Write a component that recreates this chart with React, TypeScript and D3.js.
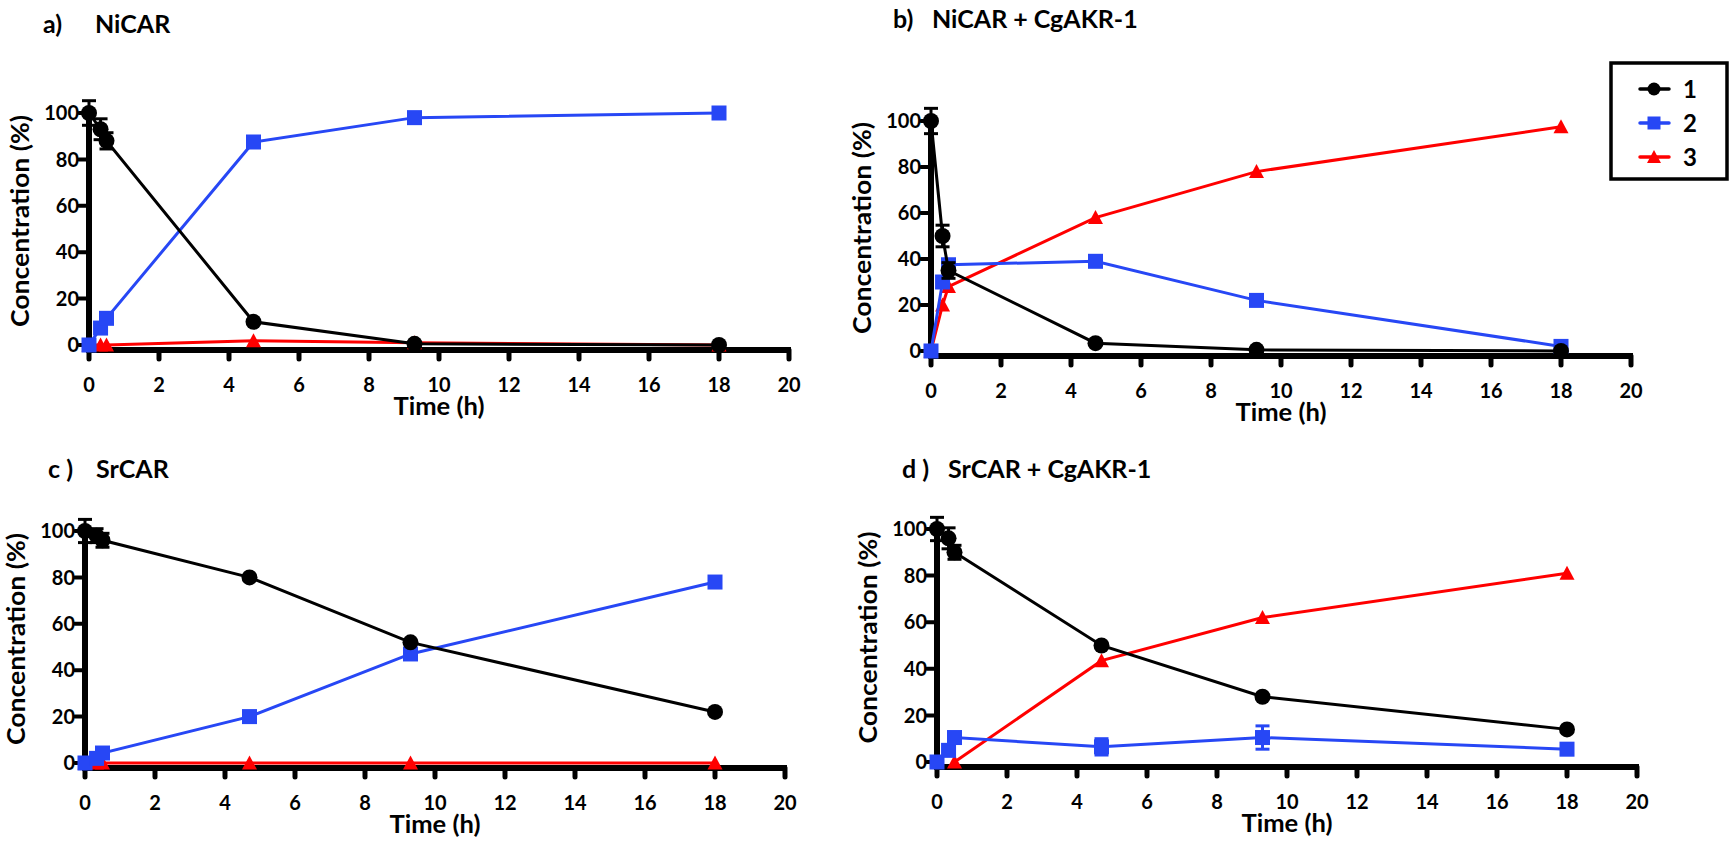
import { line, scaleLinear } from "d3";

// sampling times (h)
const times = [0, 0.33, 0.5, 4.7, 9.3, 18];
const xTicks = [0, 2, 4, 6, 8, 10, 12, 14, 16, 18, 20];
const yTicks = [0, 20, 40, 60, 80, 100];
const legendLabels = ["1", "2", "3"];

// a) NiCAR
const a1 = [100, 93, 88, 10, 0.5, 0];
const a1Err = [5.3, 4.5, 3.5, 0, 0, 0];
const a2 = [0, 7.3, 11.5, 87.5, 98, 100];
const a3 = [0, 0, 0, 1.8, 1, 0];

// b) NiCAR + CgAKR-1
const b1 = [100, 50, 35, 3.4, 0.5, 0];
const b1Err = [5.5, 4.7, 3.4, 0, 0, 0];
const b2 = [0, 30, 37.5, 39, 22, 2];
const b3 = [0, 20, 28, 58, 78, 97.5];

// c) SrCAR
const c1 = [100, 98, 96, 80, 52, 22];
const c1Err = [5, 3, 3, 0, 0, 0];
const c2 = [0, 2, 4.3, 20, 47, 78];
const c3 = [0, 0, 0, 0, 0, 0];

// d) SrCAR + CgAKR-1
const d1 = [100, 96, 90, 50, 28, 14];
const d1Err = [5, 4.5, 3, 0, 0, 0];
const d2 = [0, 5, 10.5, 6.5, 10.5, 5.5];
const d2Err = [0, 0, 0, 3.5, 5, 0];
const d3 = [null, null, 0, 43.5, 62, 81];

const BLACK = "#000000";
const BLUE = "#2747f5";
const RED = "#ff0000";
const FONT = "Lato, 'Open Sans', sans-serif";

type Val = number | null;

interface PanelProps {
  axisX: number;
  y100: number;
  y0: number;
  label: string;
  name: string;
  labelX: number;
  nameX: number;
  titleY: number;
  s1: Val[];
  e1: number[];
  s2: Val[];
  e2?: number[];
  s3: Val[];
}

function Marker({ kind, cx, cy, fill }: { kind: string; cx: number; cy: number; fill: string }) {
  if (kind === "circle") return <circle cx={cx} cy={cy} r={8} fill={fill} />;
  if (kind === "square") return <rect x={cx - 7.5} y={cy - 7.5} width={15} height={15} fill={fill} />;
  return <path d={`M${cx},${cy - 7.5}L${cx + 7.5},${cy + 6.5}L${cx - 7.5},${cy + 6.5}Z`} fill={fill} />;
}

function Series({ values, errs, color, kind, sx, sy }: {
  values: Val[];
  errs?: number[];
  color: string;
  kind: string;
  sx: (v: number) => number;
  sy: (v: number) => number;
}) {
  const pts = times.map((t, i) => [t, values[i]] as [number, Val]);
  const path = line<[number, Val]>()
    .defined((d) => d[1] != null)
    .x((d) => sx(d[0]))
    .y((d) => sy(d[1] as number))(pts);
  return (
    <g>
      <path d={path ?? ""} fill="none" stroke={color} strokeWidth={3} />
      {errs &&
        pts.map(([t, v], i) =>
          v != null && errs[i] > 0 ? (
            <g key={`e${i}`} stroke={color} strokeWidth={3}>
              <line x1={sx(t)} x2={sx(t)} y1={sy(v + errs[i])} y2={sy(v - errs[i])} />
              <line x1={sx(t) - 7} x2={sx(t) + 7} y1={sy(v + errs[i])} y2={sy(v + errs[i])} />
              <line x1={sx(t) - 7} x2={sx(t) + 7} y1={sy(v - errs[i])} y2={sy(v - errs[i])} />
            </g>
          ) : null
        )}
      {pts.map(([t, v], i) =>
        v != null ? <Marker key={`m${i}`} kind={kind} cx={sx(t)} cy={sy(v)} fill={color} /> : null
      )}
    </g>
  );
}

function Panel(p: PanelProps) {
  const sx = scaleLinear().domain([0, 20]).range([p.axisX, p.axisX + 700]);
  const sy = scaleLinear().domain([0, 100]).range([p.y0, p.y100]);
  const axisY = p.y0 + 5;
  const midY = (p.y0 + p.y100) / 2 - 8;
  return (
    <g fontFamily={FONT} fontWeight={700}>
      <text x={p.labelX} y={p.titleY} fontSize={25}>{p.label}</text>
      <text x={p.nameX} y={p.titleY} fontSize={25}>{p.name}</text>

      {/* y axis */}
      <line x1={p.axisX} x2={p.axisX} y1={axisY} y2={sy(100) - 3} stroke={BLACK} strokeWidth={6} />
      {yTicks.map((v) => (
        <g key={`y${v}`}>
          <line x1={p.axisX} x2={p.axisX - 10} y1={sy(v)} y2={sy(v)} stroke={BLACK} strokeWidth={4} strokeLinecap="round" />
          <text x={p.axisX - 10} y={sy(v)} dy="0.36em" textAnchor="end" fontSize={20}>{v}</text>
        </g>
      ))}
      <text
        transform={`translate(${p.axisX - 69},${midY}) rotate(-90)`}
        textAnchor="middle"
        dy="0.36em"
        fontSize={25}
        textLength={212}
        lengthAdjust="spacingAndGlyphs"
      >
        Concentration (%)
      </text>

      {/* x axis */}
      <line x1={p.axisX - 3} x2={sx(20) + 2} y1={axisY} y2={axisY} stroke={BLACK} strokeWidth={6} />
      {xTicks.map((t) => (
        <g key={`x${t}`}>
          <line x1={sx(t)} x2={sx(t)} y1={axisY} y2={axisY + 9} stroke={BLACK} strokeWidth={5} strokeLinecap="round" />
          <text x={sx(t)} y={axisY + 42} textAnchor="middle" fontSize={20}>{t}</text>
        </g>
      ))}
      <text x={sx(10)} y={axisY + 65} textAnchor="middle" fontSize={24} textLength={91} lengthAdjust="spacingAndGlyphs">
        Time (h)
      </text>

      <Series values={p.s3} color={RED} kind="triangle" sx={sx} sy={sy} />
      <Series values={p.s2} errs={p.e2} color={BLUE} kind="square" sx={sx} sy={sy} />
      <Series values={p.s1} errs={p.e1} color={BLACK} kind="circle" sx={sx} sy={sy} />
    </g>
  );
}

function Legend() {
  const colors = [BLACK, BLUE, RED];
  const kinds = ["circle", "square", "triangle"];
  const rows = [89, 123, 157];
  return (
    <g fontFamily={FONT} fontWeight={700}>
      <rect x={1611} y={63} width={116} height={116} fill="white" stroke={BLACK} strokeWidth={3.5} />
      {legendLabels.map((l, i) => (
        <g key={l}>
          <line x1={1640} x2={1669} y1={rows[i]} y2={rows[i]} stroke={colors[i]} strokeWidth={3.5} strokeLinecap="round" />
          {kinds[i] === "circle" ? (
            <circle cx={1654} cy={rows[i]} r={6.5} fill={colors[i]} />
          ) : kinds[i] === "square" ? (
            <rect x={1647.5} y={rows[i] - 6.5} width={13} height={13} fill={colors[i]} />
          ) : (
            <path d={`M1654,${rows[i] - 7}L1661,${rows[i] + 6}L1647,${rows[i] + 6}Z`} fill={colors[i]} />
          )}
          <text x={1683} y={rows[i]} dy="0.36em" fontSize={24}>{l}</text>
        </g>
      ))}
    </g>
  );
}

export default function App() {
  return (
    <svg
      width={1734}
      height={841}
      style={{ position: "absolute", left: 0, top: 0, background: "white" }}
    >
      <rect width={1734} height={841} fill="white" />
      <Panel axisX={89} y100={113} y0={345} label="a)" name="NiCAR" labelX={43} nameX={95} titleY={33}
        s1={a1} e1={a1Err} s2={a2} s3={a3} />
      <Panel axisX={931} y100={121} y0={351} label="b)" name="NiCAR + CgAKR-1" labelX={893} nameX={932} titleY={28}
        s1={b1} e1={b1Err} s2={b2} s3={b3} />
      <Panel axisX={85} y100={531} y0={763} label="c )" name="SrCAR" labelX={48} nameX={96} titleY={478}
        s1={c1} e1={c1Err} s2={c2} s3={c3} />
      <Panel axisX={937} y100={529} y0={762} label="d )" name="SrCAR + CgAKR-1" labelX={902} nameX={948} titleY={478}
        s1={d1} e1={d1Err} s2={d2} e2={d2Err} s3={d3} />
      <Legend />
    </svg>
  );
}
